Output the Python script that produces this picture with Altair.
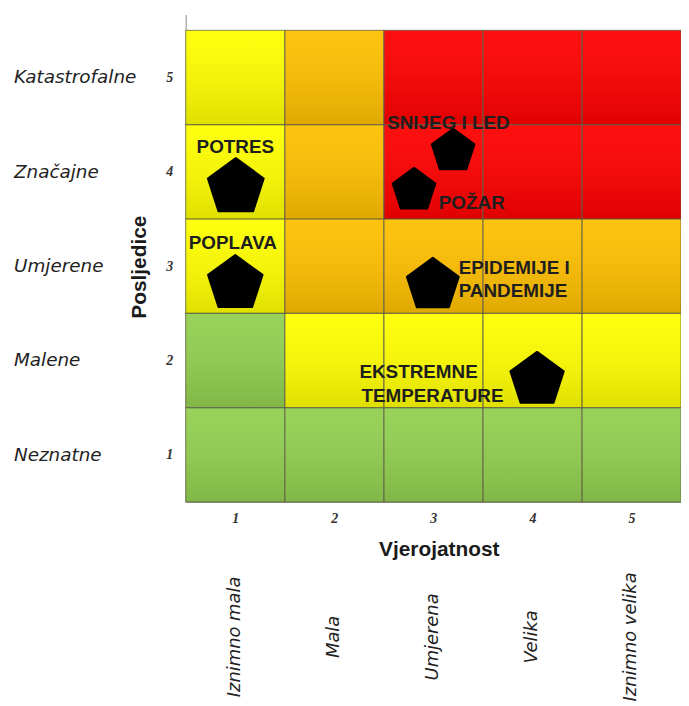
import altair as alt
import pandas as pd

# ---------------- data ----------------
prob_values = [1, 2, 3, 4, 5]
prob_labels = ["Iznimno mala", "Mala", "Umjerena", "Velika", "Iznimno velika"]
cons_values = [1, 2, 3, 4, 5]
cons_labels = ["Neznatne", "Malene", "Umjerene", "Značajne", "Katastrofalne"]

# risk level per cell: rows = consequence 1 (bottom) .. 5 (top), columns = probability 1..5
risk_rows = [
    ["green", "green", "green", "green", "green"],
    ["green", "yellow", "yellow", "yellow", "yellow"],
    ["yellow", "orange", "orange", "orange", "orange"],
    ["yellow", "orange", "red", "red", "red"],
    ["yellow", "orange", "red", "red", "red"],
]
level_names = ["green", "yellow", "orange", "red"]
level_colors = ["#92d050", "#ffff00", "#ffc000", "#ff0000"]

hazard_names = ["POTRES", "POPLAVA", "SNIJEG I LED", "POŽAR",
                "EPIDEMIJE I PANDEMIJE", "EKSTREMNE TEMPERATURE"]
hazard_prob = [1.006, 1.001, 3.200, 2.805, 2.995, 4.047]
hazard_cons = [3.863, 2.842, 4.242, 3.826, 2.826, 1.821]
hazard_size = [3500, 3330, 2045, 2045, 3025, 3200]

label_lines = ["POTRES", "POPLAVA", "SNIJEG I LED", "POŽAR",
               "EPIDEMIJE I", "PANDEMIJE", "EKSTREMNE", "TEMPERATURE"]
label_prob = [0.610, 0.530, 2.534, 3.055, 3.256, 3.256, 2.254, 2.274]
label_cons = [4.195, 3.184, 4.458, 3.605, 2.921, 2.668, 1.816, 1.563]

# ---------------- tables ----------------
cells = []
for ri, row in enumerate(risk_rows):
    for ci, lvl in enumerate(row):
        c = cons_values[ri]
        p = prob_values[ci]
        cells.append({"x0": p - 0.5, "x1": p + 0.5, "y0": c - 0.5, "y1": c + 0.5, "level": lvl})
cells_df = pd.DataFrame(cells)

haz_df = pd.DataFrame({"name": hazard_names, "p": hazard_prob, "c": hazard_cons, "s": hazard_size})
lab_df = pd.DataFrame({"text": label_lines, "p": label_prob, "c": label_cons})
cons_df = pd.DataFrame({"v": cons_values, "label": cons_labels})
prob_df = pd.DataFrame({"v": prob_values, "label": prob_labels})

xs = alt.Scale(domain=[0.5, 5.5], nice=False, zero=False)
ys = alt.Scale(domain=[0.5, 5.668], nice=False, zero=False)

x_axis = alt.Axis(values=prob_values, title="Vjerojatnost", ticks=False, grid=False,
                  domainColor="#8a8a8a", labelFont="Liberation Serif", labelFontStyle="italic",
                  labelFontWeight="bold", labelFontSize=14, labelColor="#333333",
                  labelPadding=10, format="d",
                  titleFont="Liberation Sans", titleFontSize=21, titleFontWeight="bold",
                  titleColor="#1a1a1a", titleX=255, titleY=54, titleBaseline="alphabetic",
                  titleAlign="center")
y_axis = alt.Axis(values=cons_values, title="Posljedice", ticks=False, grid=False,
                  domainColor="#8a8a8a", labelFont="Liberation Serif", labelFontStyle="italic",
                  labelFontWeight="bold", labelFontSize=14, labelColor="#333333",
                  labelPadding=13, format="d",
                  titleFont="Liberation Sans", titleFontSize=21, titleFontWeight="bold",
                  titleColor="#1a1a1a", titleX=-46, titleY=254, titleAngle=270,
                  titleAlign="center", titleBaseline="middle")

cells_layer = alt.Chart(cells_df).mark_rect(strokeWidth=0).encode(
    x=alt.X("x0:Q", scale=xs, axis=x_axis),
    x2="x1",
    y=alt.Y("y0:Q", scale=ys, axis=y_axis),
    y2="y1",
    fill=alt.Fill("level:N", scale=alt.Scale(domain=level_names, range=level_colors), legend=None),
)

shade = alt.LinearGradient(
    gradient="linear",
    stops=[alt.GradientStop(color="rgba(255,255,255,0.06)", offset=0),
           alt.GradientStop(color="rgba(0,0,0,0.12)", offset=1)],
    x1=0, x2=0, y1=0, y2=1,
)
shade_layer = alt.Chart(cells_df).mark_rect(
    fill=shade, stroke="#5f5f45", strokeOpacity=0.6, strokeWidth=1.2
).encode(
    x=alt.X("x0:Q", scale=xs, axis=x_axis),
    x2="x1",
    y=alt.Y("y0:Q", scale=ys, axis=y_axis),
    y2="y1",
)

pentagon = "M0,-0.905L0.951,-0.214L0.588,0.905L-0.588,0.905L-0.951,-0.214Z"
haz_layer = alt.Chart(haz_df).mark_point(
    shape=pentagon, filled=True, fill="black", stroke="black", strokeWidth=2,
    strokeJoin="round", opacity=1
).encode(
    x=alt.X("p:Q", scale=xs, axis=x_axis),
    y=alt.Y("c:Q", scale=ys, axis=y_axis),
    size=alt.Size("s:Q", scale=None, legend=None),
)

lab_layer = alt.Chart(lab_df).mark_text(
    align="left", baseline="alphabetic", font="Liberation Sans", fontWeight="bold",
    fontSize=19, color="#1e1e1e"
).encode(
    x=alt.X("p:Q", scale=xs, axis=x_axis),
    y=alt.Y("c:Q", scale=ys, axis=y_axis),
    text="text:N",
)

cons_layer = alt.Chart(cons_df).mark_text(
    align="left", baseline="middle", font="DejaVu Sans", fontStyle="italic",
    fontSize=18.5, color="#222222"
).encode(
    x=alt.value(-173),
    y=alt.Y("v:Q", scale=ys, axis=y_axis),
    text="label:N",
)

prob_layer = alt.Chart(prob_df).mark_text(
    align="center", baseline="middle", font="DejaVu Sans", fontStyle="italic",
    fontSize=18, color="#222222", angle=270, dx=3
).encode(
    x=alt.X("v:Q", scale=xs, axis=x_axis),
    y=alt.value(630),
    text="label:N",
)

chart = alt.layer(
    cells_layer, shade_layer, haz_layer, lab_layer, cons_layer, prob_layer
).properties(
    width=499, height=491,
    autosize=alt.AutoSizeParams(type="none"),
    padding={"left": 179, "top": 4, "right": 0, "bottom": 198},
    background="white",
).configure_view(strokeWidth=0)

chart.save("out.html", embed_options={"renderer": "svg", "actions": False})
